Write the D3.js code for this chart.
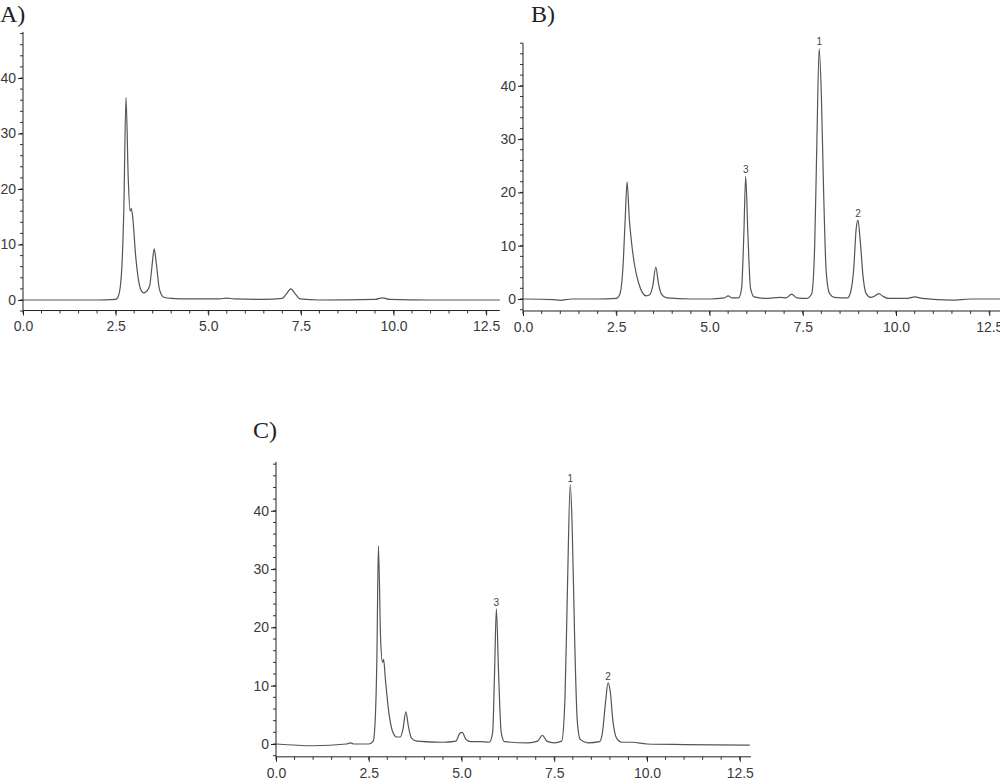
<!DOCTYPE html>
<html>
<head>
<meta charset="utf-8">
<script src="https://cdn.jsdelivr.net/npm/d3@7/dist/d3.min.js"></script>
<style>
  html, body { margin: 0; padding: 0; background: #fff; }
  svg { display: block; }
  .tick-label { font-family: "Liberation Sans Narrow", "Arial Narrow", "Liberation Sans", Arial, sans-serif; font-size: 14px; fill: #3a3a3a; }
  .panel-title { font-family: "Liberation Serif", "Times New Roman", serif; font-size: 24px; fill: #222; }
  .peak-label { font-family: "Liberation Sans", Arial, sans-serif; font-size: 10px; fill: #444; }
</style>
</head>
<body>
<svg id="chart" width="1000" height="782"></svg>
<script>
// ---- Data (retention time in min, signal) ----
const xTicks = [0, 2.5, 5.0, 7.5, 10.0, 12.5];
const yTicks = [0, 10, 20, 30, 40];

const traceA = [
  [0,0],[1,0],[2,0],[2.5,0.1],[2.58,0.8],[2.66,5],[2.72,16],[2.78,36.5],[2.84,22],[2.89,16],[2.92,16.5],[2.96,15],
  [3.04,8],[3.12,3.5],[3.2,1.6],[3.26,1.3],[3.34,1.6],[3.42,2.6],[3.48,6],[3.54,9.2],[3.6,6.5],[3.68,2],
  [3.8,0.5],[4.0,0.3],[4.5,0.2],[5.3,0.2],[5.5,0.35],[5.7,0.2],[6.5,0.1],[7.0,0.3],[7.1,1],[7.23,2],
  [7.36,1],[7.48,0.2],[8.0,0],[9.5,0.1],[9.7,0.4],[9.9,0.1],[11,0],[12.87,0]
];

const traceB = [
  [0,0],[0.8,-0.1],[1.0,-0.25],[1.3,0],[2.0,0],[2.5,0.1],[2.6,1],[2.68,6],[2.74,15],[2.79,22],[2.85,15],
  [2.92,10],[3.0,6],[3.1,3],[3.2,1.2],[3.3,0.6],[3.4,0.8],[3.48,2.5],[3.56,6],[3.63,3],[3.72,0.8],[3.85,0.2],
  [4.5,0],[5.0,0],[5.4,0.2],[5.5,0.6],[5.6,0.2],[5.78,0.2],[5.86,2],[5.92,12],[5.97,23],[6.03,12],[6.1,2],
  [6.2,0.4],[6.5,0.1],[6.9,0.3],[7.05,0.2],[7.2,0.9],[7.35,0.2],[7.6,0.1],[7.74,1],[7.82,10],[7.88,30],
  [7.94,47],[8.0,38],[8.06,20],[8.13,5],[8.22,1],[8.35,0.3],[8.7,0.2],[8.79,1.5],[8.87,6],[8.93,13],
  [8.98,14.8],[9.04,11],[9.12,4],[9.2,1],[9.32,0.3],[9.44,0.6],[9.54,1],[9.65,0.5],[9.8,0.1],[10.3,0.1],
  [10.5,0.4],[10.7,0.1],[11.5,-0.2],[12.0,0],[12.8,0]
];

const traceC = [
  [0,0],[1,-0.3],[1.9,0],[2.0,0.2],[2.1,0],[2.5,0],[2.62,0.5],[2.68,5],[2.72,15],[2.76,34],[2.82,18],
  [2.87,14],[2.9,14.5],[2.95,11],[3.05,5],[3.15,2],[3.25,1.2],[3.35,1.2],[3.42,2.5],[3.5,5.5],[3.57,3],
  [3.65,1],[3.8,0.5],[4.5,0.3],[4.85,0.5],[4.95,1.8],[5.02,2],[5.12,0.8],[5.25,0.4],[5.5,0.4],[5.75,0.3],
  [5.84,2],[5.89,12],[5.94,23.2],[6.0,12],[6.07,2],[6.16,0.4],[6.8,0.2],[7.05,0.5],[7.18,1.5],[7.3,0.5],
  [7.5,0.2],[7.7,0.5],[7.79,8],[7.86,28],[7.93,44.5],[7.98,38],[8.05,18],[8.12,4],[8.2,0.8],[8.4,0.2],
  [8.72,0.4],[8.8,2],[8.88,7],[8.95,10.5],[9.01,9],[9.08,4],[9.18,1],[9.32,0.3],[9.6,0.3],[10,0],
  [11,-0.1],[12.77,-0.2]
];

const panelTitles = ["A)", "B)", "C)"];
const peakLabelsB = [["3", 5.97, 23], ["1", 7.94, 47], ["2", 8.98, 14.8]];
const peakLabelsC = [["3", 5.94, 23.2], ["1", 7.93, 44.5], ["2", 8.95, 10.5]];

// ---- Layout ----
const svg = d3.select("#chart");

const panels = [
  { title: panelTitles[0], trace: traceA, labels: [], x0: 23, kx: 37.05, xMax: 12.87, y0: 300, ky: 5.55, yMin: -1.9, yMax: 48.3, titleX: 0, titleY: 22 },
  { title: panelTitles[1], trace: traceB, labels: peakLabelsB, x0: 523, kx: 37.3, xMax: 12.8, y0: 299, ky: 5.33, yMin: -2.25, yMax: 48.0, titleX: 531, titleY: 22 },
  { title: panelTitles[2], trace: traceC, labels: peakLabelsC, x0: 276, kx: 37.1, xMax: 12.8, y0: 744, ky: 5.83, yMin: -2.2, yMax: 48.4, titleX: 253, titleY: 438 }
];

panels.forEach(p => {
  const x = d3.scaleLinear().domain([0, p.xMax]).range([p.x0, p.x0 + p.xMax * p.kx]);
  const y = d3.scaleLinear().domain([p.yMin, p.yMax]).range([p.y0 - p.yMin * p.ky, p.y0 - p.yMax * p.ky]);
  const g = svg.append("g");

  // title
  g.append("text").attr("class", "panel-title").attr("x", p.titleX).attr("y", p.titleY).text(p.title);

  // minor ticks
  const xMinor = d3.range(0, p.xMax + 1e-9, 0.5);
  const yMinor = d3.range(-2, p.yMax + 1e-9, 2);
  const yAxisBottom = y(p.yMin);

  g.selectAll(".xminor").data(xMinor).enter().append("line")
    .attr("x1", d => x(d)).attr("x2", d => x(d))
    .attr("y1", yAxisBottom).attr("y2", yAxisBottom + 3)
    .attr("stroke", "#333").attr("stroke-width", 1);
  g.selectAll(".yminor").data(yMinor).enter().append("line")
    .attr("x1", x(0) - 3).attr("x2", x(0))
    .attr("y1", d => y(d)).attr("y2", d => y(d))
    .attr("stroke", "#333").attr("stroke-width", 1);

  // axes
  const xAxis = d3.axisBottom(x).tickValues(xTicks).tickFormat(d3.format(".1f")).tickSize(5).tickPadding(6);
  const gx = g.append("g").attr("transform", `translate(0,${yAxisBottom})`).call(xAxis);
  gx.select(".domain").attr("d", `M${x(0)},0H${x(p.xMax)}`).attr("stroke", "#222");
  gx.selectAll(".tick line").attr("stroke", "#222");
  gx.selectAll(".tick text").attr("class", "tick-label").attr("font-family", null).attr("font-size", null).attr("fill", null);

  const yAxis = d3.axisLeft(y).tickValues(yTicks).tickFormat(d3.format("d")).tickSize(5).tickPadding(2);
  const gy = g.append("g").attr("transform", `translate(${x(0)},0)`).call(yAxis);
  gy.select(".domain").attr("d", `M0,${y(p.yMax)}V${yAxisBottom}`).attr("stroke", "#222");
  gy.selectAll(".tick line").attr("stroke", "#222");
  gy.selectAll(".tick text").attr("class", "tick-label").attr("font-family", null).attr("font-size", null).attr("fill", null);

  // trace
  const line = d3.line().x(d => x(d[0])).y(d => y(d[1])).curve(d3.curveMonotoneX);
  g.append("path").datum(p.trace).attr("d", line)
    .attr("fill", "none").attr("stroke", "#555").attr("stroke-width", 1.2).attr("stroke-linejoin", "round");

  // peak labels
  g.selectAll(".peak").data(p.labels).enter().append("text")
    .attr("class", "peak-label")
    .attr("x", d => x(d[1])).attr("y", d => y(d[2]) - 3)
    .attr("text-anchor", "middle").text(d => d[0]);
});
</script>
</body>
</html>
